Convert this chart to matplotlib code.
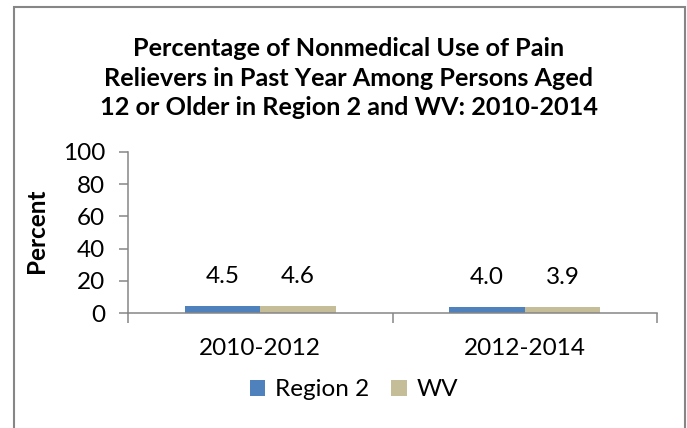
import numpy as np
import matplotlib
matplotlib.use("Agg")
import matplotlib.pyplot as plt
from matplotlib.patches import Rectangle

plt.rcParams['font.family'] = ['Lato', 'DejaVu Sans']

# data
periods = ['2010-2012', '2012-2014']
region2 = [4.5, 4.0]
wv = [4.6, 3.9]
series_names = ['Region 2', 'WV']
yticks = [0, 20, 40, 60, 80, 100]

blue = '#4F81BD'
tan = '#C4BD97'
gray = '#868686'
fs = 17.5

fig = plt.figure(figsize=(6.87, 4.28), dpi=100)
ax = fig.add_axes([128/687, 1-313/428, (657-128)/687, (313-152)/428])

x = np.arange(len(periods))
w = 0.286
b1 = ax.bar(x - w/2, region2, w, color=blue, label=series_names[0])
b2 = ax.bar(x + w/2, wv, w, color=tan, label=series_names[1])

# data labels
for bars, vals in [(b1, region2), (b2, wv)]:
    for r, v in zip(bars, vals):
        ax.annotate(f'{v:.1f}', (r.get_x() + r.get_width()/2, v),
                    xytext=(0, 21), textcoords='offset points',
                    ha='center', va='center', fontsize=fs)

ax.set_xlim(-0.5, len(periods) - 0.5)
ax.set_ylim(0, 100)
ax.set_yticks(yticks)
ax.tick_params(axis='y', direction='out', length=6.5, width=1.1, color=gray,
               pad=10, labelsize=fs)

# category boundaries as major ticks, names on minor ticks
ax.set_xticks(np.arange(len(periods) + 1) - 0.5)
ax.set_xticklabels([])
ax.set_xticks(x, minor=True)
ax.set_xticklabels(periods, minor=True)
ax.tick_params(axis='x', which='major', direction='out', length=7.2, width=1.1, color=gray)
ax.tick_params(axis='x', which='minor', length=0, pad=18, labelsize=fs)

for s in ['top', 'right']:
    ax.spines[s].set_visible(False)
for s in ['left', 'bottom']:
    ax.spines[s].set_color(gray)
    ax.spines[s].set_linewidth(1.1)

fig.text(36/687, 1-231/428, 'Percent', rotation=90, ha='center', va='center',
         fontsize=fs, fontweight='bold')

fig.text(349/687, 1-78/428,
         'Percentage of Nonmedical Use of Pain\n'
         'Relievers in Past Year Among Persons Aged\n'
         '12 or Older in Region 2 and WV: 2010-2014',
         ha='center', va='center', fontsize=18.2, fontweight='bold',
         linespacing=1.33)

fig.legend(handles=[b1, b2], labels=series_names, loc='center',
           bbox_to_anchor=(354/687, 1-390/428), ncol=2, frameon=False,
           fontsize=fs, handlelength=0.65, handleheight=0.65,
           handletextpad=0.4, columnspacing=0.9)

fig.patches.append(Rectangle((13.5/687, -0.05), (685-13.5)/687, 1.05-7/428,
                             transform=fig.transFigure, fill=False,
                             edgecolor=gray, linewidth=1.5))

fig.savefig('out.png', dpi=100)
